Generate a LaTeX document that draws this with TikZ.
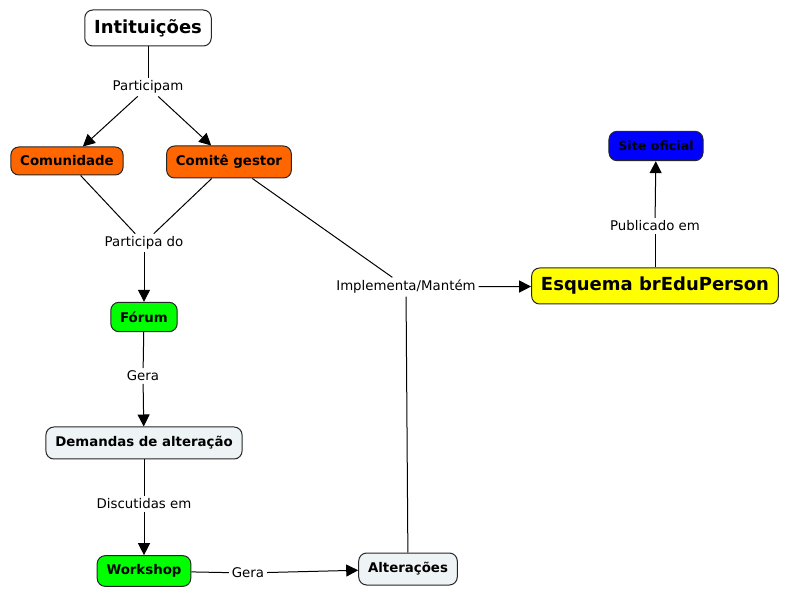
\documentclass[tikz,border=0pt]{standalone}
\usepackage{fontspec}
\setmainfont{DejaVu Sans}
\usetikzlibrary{arrows.meta}

\definecolor{laranja}{HTML}{FF6600}
\definecolor{verde}{HTML}{00FF00}
\definecolor{cinza}{HTML}{EEF3F5}
\definecolor{amarelo}{HTML}{FFFF00}
\definecolor{azul}{HTML}{0000FF}

\begin{document}
\begin{tikzpicture}[x=0.75pt, y=-0.75pt,
    concept/.style={draw=black!85, rounded corners=6pt, line width=0.75pt,
      font=\bfseries\fontsize{10}{12}\selectfont, inner xsep=7pt, minimum height=23pt},
    big/.style={font=\bfseries\fontsize{13.5}{16}\selectfont, minimum height=27pt},
    link/.style={font=\fontsize{10}{12}\selectfont, inner sep=2pt},
    line/.style={line width=0.75pt},
    arrow/.style={line width=0.75pt, -{Triangle[length=9pt,width=9pt]}}]
      \useasboundingbox (0,0) rectangle (789,598);
      % concepts
      \node[concept, big, fill=white] (inst) at (148,28) {Intituições};
      \node[concept, fill=laranja, minimum height=21pt] (comunidade) at (67,161) {Comunidade};
      \node[concept, fill=laranja, minimum height=24pt] (comite) at (229,162) {Comitê gestor};
      \node[concept, fill=verde, minimum height=22pt] (forum) at (144,317) {Fórum};
      \node[concept, fill=cinza, minimum height=24pt] (demandas) at (144,443) {Demandas de alteração};
      \node[concept, fill=verde] (workshop) at (144,571) {Workshop};
      \node[concept, fill=cinza, minimum height=24pt] (alteracoes) at (408,569) {Alterações};
      \node[concept, big, fill=amarelo] (esquema) at (655,286) {Esquema brEduPerson};
      \node[concept, fill=azul, minimum height=22pt,
            font=\bfseries\fontsize{9.5}{11}\selectfont] (site) at (656,146) {Site oficial};
      % linking phrases
      \node[link] (participam) at (148,87) {Participam};
      \node[link] (participa) at (144,243) {Participa do};
      \node[link] (implementa) at (406,287) {Implementa/Mantém};
      \node[link] (publicado) at (655,226) {Publicado em};
      \node[link] (gera1) at (143,376) {Gera};
      \node[link] (discutidas) at (144,504) {Discutidas em};
      \node[link] (gera2) at (248,573) {Gera};
      % connections
      \foreach \a/\b in {inst/participam, comunidade/participa, comite/participa,
                         comite/implementa, alteracoes/implementa, esquema/publicado,
                         forum/gera1, demandas/discutidas, workshop/gera2}
               \draw[line] (\a) -- (\b);
      \foreach \a/\b in {participam/comunidade, participam/comite, participa/forum,
                         implementa/esquema, publicado/site, gera1/demandas,
                         discutidas/workshop, gera2/alteracoes}
               \draw[arrow] (\a) -- (\b);
\end{tikzpicture}
\end{document}
